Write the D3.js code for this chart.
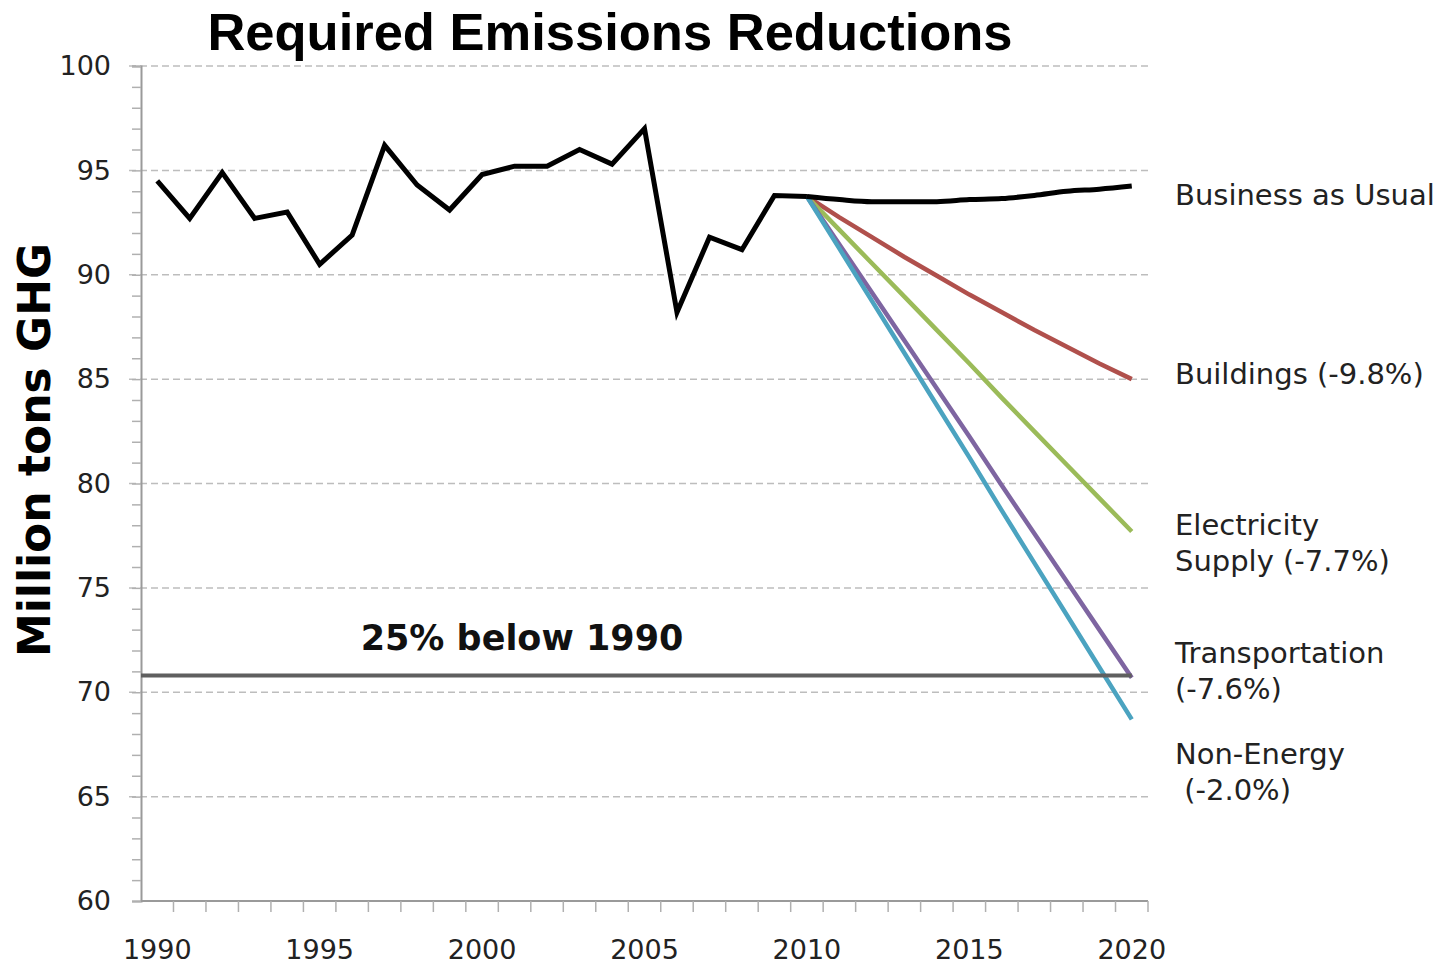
<!DOCTYPE html>
<html>
<head>
<meta charset="utf-8">
<script src="https://cdn.jsdelivr.net/npm/d3@7"></script>
<style>
  body { margin: 0; background: #fff; }
  svg { display: block; }
  .tick text { font-family: "DejaVu Sans", Verdana, sans-serif; font-size: 27px; fill: #222; }
  .lbl { font-family: "DejaVu Sans", Verdana, sans-serif; font-size: 29px; fill: #222; }
</style>
</head>
<body>
<svg id="chart" width="1447" height="964"></svg>
<script>
// historical emissions, 1990-2010
const histYears = d3.range(1990, 2011)
const histValues = [94.5, 92.7, 94.9, 92.7, 93.0, 90.5, 91.9, 96.2, 94.3, 93.1, 94.8,
  95.2, 95.2, 96.0, 95.3, 97.0, 88.2, 91.8, 91.2, 93.8, 93.75]

// projections, 2010-2020
const projYears = d3.range(2010, 2021)
const bau = [93.75, 93.6, 93.5, 93.5, 93.5, 93.6, 93.65, 93.8, 94.0, 94.1, 94.25]
const buildings = [93.75, 92.75, 91.8, 90.85, 89.95, 89.05, 88.2, 87.35, 86.55, 85.75, 85.0]
const electricity = [93.75, 92.15, 90.55, 88.95, 87.35, 85.75, 84.1, 82.5, 80.9, 79.3, 77.7]
const transportation = [93.75, 91.45, 89.15, 86.85, 84.55, 82.25, 79.9, 77.6, 75.3, 73.0, 70.7]
const nonEnergy = [93.75, 91.25, 88.75, 86.25, 83.75, 81.25, 78.7, 76.2, 73.7, 71.2, 68.7]

const target = 70.8
const targetLabel = '25% below 1990'

const seriesNames = ['Buildings', 'Electricity', 'Transportation', 'Non-Energy']
const seriesColors = ['#b0504c', '#9bbb59', '#7e65a1', '#4ba3c0']

const endLabels = [
  { lines: ['Business as Usual'], y: 205 },
  { lines: ['Buildings (-9.8%)'], y: 384 },
  { lines: ['Electricity', 'Supply (-7.7%)'], y: 535 },
  { lines: ['Transportation', '(-7.6%)'], y: 663 },
  { lines: ['Non-Energy', ' (-2.0%)'], y: 764 }
]

const svg = d3.select('#chart')
const margin = { left: 141, right: 299, top: 66, bottom: 63 }
const W = 1447, H = 964

const x = d3.scaleBand()
  .domain(d3.range(1990, 2021))
  .range([margin.left, W - margin.right])
  .padding(0)
const cx = (yr) => x(yr) + x.bandwidth() / 2

const y = d3.scaleLinear().domain([60, 100]).range([H - margin.bottom, margin.top])

// title
svg.append('text')
  .attr('x', 610).attr('y', 50)
  .attr('text-anchor', 'middle')
  .style('font-family', '"Liberation Sans", Arial, sans-serif')
  .style('font-weight', 'bold')
  .style('font-size', '52.5px')
  .text('Required Emissions Reductions')

// gridlines
svg.append('g')
  .selectAll('line')
  .data(d3.range(65, 101, 5))
  .join('line')
  .attr('x1', margin.left - 12).attr('x2', W - margin.right)
  .attr('y1', (d) => y(d)).attr('y2', (d) => y(d))
  .attr('stroke', '#bdbdbd')
  .attr('stroke-width', 1.5)
  .attr('stroke-dasharray', '7,4')

// y axis
const yAxis = svg.append('g')
  .attr('transform', `translate(${margin.left},0)`)
  .call(d3.axisLeft(y)
    .tickValues(d3.range(60, 101, 1))
    .tickSize(9)
    .tickPadding(21)
    .tickFormat((d) => d % 5 === 0 ? d : ''))
yAxis.select('.domain').attr('stroke', '#9a9a9a').attr('stroke-width', 2)
yAxis.selectAll('.tick line').attr('stroke', '#b0b0b0').attr('stroke-width', 1.5)

// x axis: ticks between categories, labels every 5 years
const xAxis = svg.append('g')
  .attr('transform', `translate(0,${y(60)})`)
xAxis.append('line')
  .attr('x1', margin.left).attr('x2', W - margin.right)
  .attr('stroke', '#9a9a9a').attr('stroke-width', 2)
xAxis.selectAll('line.tk')
  .data(x.domain().map((d) => x(d) + x.bandwidth()))
  .join('line')
  .attr('class', 'tk')
  .attr('x1', (d) => d).attr('x2', (d) => d)
  .attr('y1', 0).attr('y2', 11)
  .attr('stroke', '#b0b0b0').attr('stroke-width', 1.5)
xAxis.selectAll('text')
  .data(x.domain().filter((d) => d % 5 === 0))
  .join('text')
  .attr('class', 'lbl')
  .attr('x', (d) => cx(d))
  .attr('y', 58)
  .attr('text-anchor', 'middle')
  .style('font-size', '27px')
  .text((d) => d)

// y axis title
svg.append('text')
  .attr('transform', `translate(50,450) rotate(-90)`)
  .attr('text-anchor', 'middle')
  .style('font-family', '"DejaVu Sans", Verdana, sans-serif')
  .style('font-weight', 'bold')
  .style('font-size', '44px')
  .text('Million  tons GHG')

const line = d3.line().x((d) => cx(d[0])).y((d) => y(d[1]))

// reduction scenarios
const projSeries = [buildings, electricity, transportation, nonEnergy]
projSeries.forEach((vals, i) => {
  svg.append('path')
    .datum(projYears.map((yr, j) => [yr, vals[j]]))
    .attr('d', line)
    .attr('fill', 'none')
    .attr('stroke', seriesColors[i])
    .attr('stroke-width', 4.5)
    .attr('class', seriesNames[i])
})

// target line
svg.append('line')
  .attr('x1', margin.left).attr('x2', cx(2020))
  .attr('y1', y(target)).attr('y2', y(target))
  .attr('stroke', '#5f5f5f')
  .attr('stroke-width', 4)
svg.append('text')
  .attr('x', 522).attr('y', 650)
  .attr('text-anchor', 'middle')
  .style('font-family', '"DejaVu Sans", Verdana, sans-serif')
  .style('font-weight', 'bold')
  .style('font-size', '35px')
  .style('fill', '#111')
  .text(targetLabel)

// historical + business as usual
svg.append('path')
  .datum(histYears.map((yr, j) => [yr, histValues[j]]))
  .attr('d', line)
  .attr('fill', 'none')
  .attr('stroke', '#000')
  .attr('stroke-width', 5)
  .attr('stroke-linejoin', 'miter')
svg.append('path')
  .datum(projYears.map((yr, j) => [yr, bau[j]]))
  .attr('d', line.curve(d3.curveMonotoneX))
  .attr('fill', 'none')
  .attr('stroke', '#000')
  .attr('stroke-width', 5)

// end labels
endLabels.forEach((lab) => {
  const t = svg.append('text')
    .attr('class', 'lbl')
    .attr('x', 1175)
    .attr('y', lab.y)
  lab.lines.forEach((s, k) => {
    t.append('tspan')
      .attr('x', 1175)
      .attr('dy', k === 0 ? 0 : 36)
      .attr('xml:space', 'preserve')
      .style('white-space', 'pre')
      .text(s)
  })
})
</script>
</body>
</html>
